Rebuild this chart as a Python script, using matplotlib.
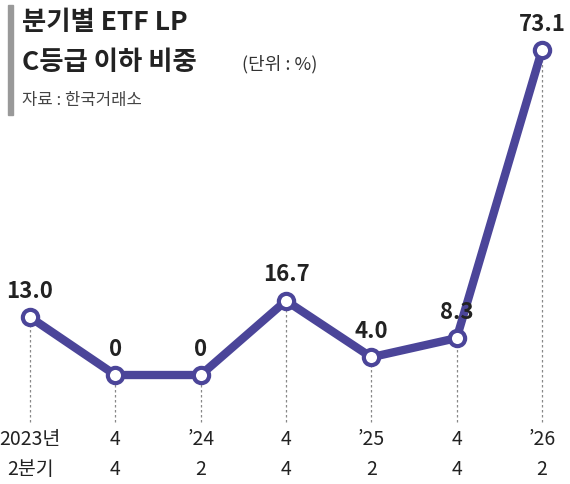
import matplotlib.pyplot as plt
from matplotlib.patches import Rectangle

plt.rcParams['font.family'] = ['Noto Sans CJK KR', 'DejaVu Sans']

values = [13.0, 0, 0, 16.7, 4.0, 8.3, 73.1]
value_labels = ["13.0", "0", "0", "16.7", "4.0", "8.3", "73.1"]
tick_top = ["2023년", "4", "’24", "4", "’25", "4", "’26"]
tick_bottom = ["2분기", "4", "2", "4", "2", "4", "2"]
tick_top = ["2023년", "", "’24", "", "’25", "", "’26"]

color = "#4b4599"

fig = plt.figure(figsize=(5.7, 4.84), dpi=100)
ax = fig.add_axes([0, 0, 1, 1])
ax.set_xlim(-0.352, 6.328)
ax.set_ylim(-24.5, 84.3)
ax.axis("off")

x = list(range(len(values)))
for i, v in zip(x, values):
    ax.plot([i, i], [-10.5, v], ls=(0, (2, 2)), color="#888888", lw=0.9, zorder=1)
ax.plot(x, values, color=color, lw=6, zorder=2, solid_capstyle="round")
ax.plot(x, values, "o", ms=11, mfc="white", mec=color, mew=3, zorder=3)

for i, v, lab in zip(x, values, value_labels):
    ax.text(i, v + 3.2, lab, ha="center", va="bottom", fontsize=16,
            fontweight="bold", color="#222222")
    ax.text(i, -14.5, tick_top[i], ha="center", va="center", fontsize=14, color="#222222")
    ax.text(i, -21.3, tick_bottom[i], ha="center", va="center", fontsize=14, color="#222222")
ax.text(1, -14.5, "4", ha="center", va="center", fontsize=14, color="#222222")
ax.text(3, -14.5, "4", ha="center", va="center", fontsize=14, color="#222222")
ax.text(5, -14.5, "4", ha="center", va="center", fontsize=14, color="#222222")

fig.patches.append(Rectangle((8 / 570, 1 - 115 / 484), 5 / 570, 110 / 484,
                             transform=fig.transFigure, color="#999999"))
fig.text(22 / 570, 1 - 22 / 484, "분기별 ETF LP", fontsize=19, fontweight="bold",
         va="center", color="#222222")
fig.text(22 / 570, 1 - 62 / 484, "C등급 이하 비중", fontsize=19, fontweight="bold",
         va="center", color="#222222")
fig.text(242 / 570, 1 - 64 / 484, "(단위 : %)", fontsize=13, va="center", color="#333333")
fig.text(22 / 570, 1 - 100 / 484, "자료 : 한국거래소", fontsize=12, va="center", color="#444444")

fig.savefig("out.png", dpi=100)
